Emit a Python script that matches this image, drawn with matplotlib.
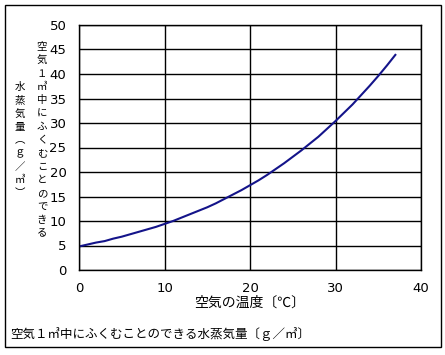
import numpy as np
import matplotlib.pyplot as plt
from matplotlib.patches import Rectangle

plt.rcParams['font.family'] = ['Noto Sans CJK JP', 'DejaVu Sans']

# saturated water vapour (g per m3) against air temperature (C)
temp = [0, 1, 2, 3, 4, 5, 6, 7, 8, 9, 10, 11, 12, 13, 14, 15, 16, 17, 18,
        19, 20, 21, 22, 23, 24, 25, 26, 27, 28, 29, 30, 31, 32, 33, 34, 35, 36, 37]
vapour = [4.8, 5.2, 5.6, 5.9, 6.4, 6.8, 7.3, 7.8, 8.3, 8.8, 9.4, 10.0, 10.7,
          11.4, 12.1, 12.8, 13.6, 14.5, 15.4, 16.3, 17.3, 18.3, 19.4, 20.6,
          21.8, 23.1, 24.4, 25.8, 27.2, 28.8, 30.4, 32.1, 33.8, 35.7, 37.6,
          39.6, 41.7, 43.9]
xticks = [0, 10, 20, 30, 40]
yticks = [0, 5, 10, 15, 20, 25, 30, 35, 40, 45, 50]

W, H = 445, 355
fig = plt.figure(figsize=(W / 100, H / 100), dpi=100)
ax = fig.add_axes([79 / W, 1 - 270 / H, 342 / W, 245 / H])

ax.plot(temp, vapour, color='#14148a', lw=1.5)
ax.set_xlim(0, 40)
ax.set_ylim(0, 50)
ax.set_xticks(xticks)
ax.set_yticks(yticks)
ax.grid(True, color='black', lw=1)
ax.set_axisbelow(True)
for s in ax.spines.values():
    s.set_linewidth(1)
ax.tick_params(length=0, labelsize=9.5, pad=9)
for lab in ax.get_xticklabels() + ax.get_yticklabels():
    lab.set_family('DejaVu Sans')

ax.set_xlabel('空気の温度〔℃〕', fontsize=10, labelpad=0)

# vertical y label, two columns read right then left
col1 = '空気１㎥中にふくむことのできる'
col2 = '水蒸気量︵ｇ／㎥︶'
step = 13.3
for i, ch in enumerate(col1):
    fig.text(42 / W, 1 - (47 + i * step) / H, ch, fontsize=7.5,
             ha='center', va='center')
for i, ch in enumerate(col2):
    fig.text(20 / W, 1 - (87 + i * step) / H, ch, fontsize=7.5,
             ha='center', va='center')

fig.text(10 / W, 1 - 334 / H, '空気１㎥中にふくむことのできる水蒸気量〔ｇ／㎥〕',
         fontsize=9, ha='left', va='center')

fig.patches.append(Rectangle((5 / W, 1 - 347 / H), 436 / W, 342 / H,
                             transform=fig.transFigure, fill=False,
                             ec='black', lw=1))

fig.savefig('out.png', dpi=100)
